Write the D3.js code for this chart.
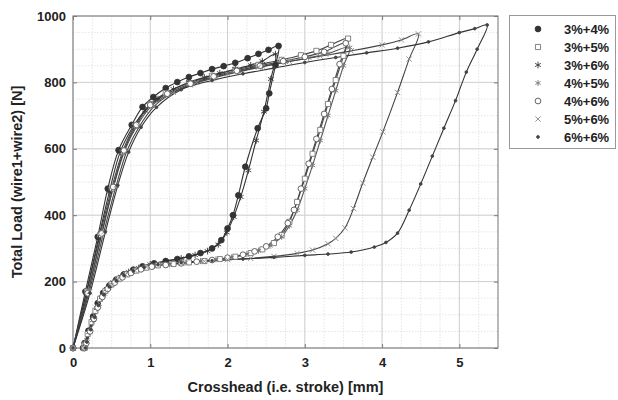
<!DOCTYPE html>
<html>
<head>
<meta charset="utf-8">
<script src="https://cdn.jsdelivr.net/npm/d3@7"></script>
<style>
  html, body { margin: 0; padding: 0; background: #fff; }
  svg { display: block; }
  text { font-family: "Liberation Sans", Arial, sans-serif; font-weight: bold; fill: #222; }
</style>
</head>
<body>
<svg id="chart" width="618" height="400"></svg>
<script>
// Load–displacement loops of paired wires, [stroke mm, load N]
const seriesNames = ["3%+4%", "3%+5%", "3%+6%", "4%+5%", "4%+6%", "5%+6%", "6%+6%"];

const loop3_4 = [
  [0,0],[0.16,170],[0.32,335],[0.45,480],[0.59,596],[0.76,672],[0.9,726],[1.04,756],[1.2,783],
  [1.35,801],[1.5,816],[1.65,828],[1.8,840],[1.95,849],[2.1,859],[2.26,873],[2.4,886],[2.53,898],[2.66,910],
  [2.62,852],[2.54,767],[2.5,722],[2.39,662],[2.23,546],[2.14,460],[2.07,400],[2.0,360],[1.92,325],[1.8,300],
  [1.65,286],[1.5,276],[1.35,268],[1.2,262],[1.05,255],[0.9,246],[0.78,236],[0.66,222],[0.56,206],[0.47,188],
  [0.39,166],[0.32,135],[0.26,95],[0.2,52],[0.15,15],[0.13,0]
];
const loop3_5 = [
  [0,0],[0.18,170],[0.35,340],[0.5,480],[0.64,590],[0.8,670],[1.0,735],[1.2,768],[1.5,798],[1.8,820],
  [2.1,838],[2.4,853],[2.7,868],[2.95,882],[3.15,895],[3.34,913],[3.56,932],
  [3.5,880],[3.4,807],[3.3,735],[3.2,657],[3.1,585],[3.0,510],[2.9,440],[2.8,380],[2.7,340],[2.6,316],
  [2.45,297],[2.3,286],[2.1,275],[1.9,268],[1.7,262],[1.5,258],[1.3,253],[1.1,249],[0.95,242],[0.82,233],
  [0.7,222],[0.6,209],[0.5,192],[0.42,172],[0.35,148],[0.29,112],[0.24,78],[0.19,42],[0.15,10],[0.14,0]
];
const loop3_6 = [
  [0,0],[0.17,165],[0.33,330],[0.47,470],[0.61,590],[0.78,668],[0.93,715],[1.1,750],[1.3,780],[1.5,800],
  [1.7,815],[1.9,828],[2.1,840],[2.3,852],[2.45,864],[2.62,885],
  [2.56,810],[2.47,712],[2.37,625],[2.27,535],[2.17,455],[2.08,395],[1.99,348],[1.88,312],[1.74,292],
  [1.58,280],[1.4,270],[1.2,261],[1.0,252],[0.85,241],[0.72,229],[0.62,215],[0.52,198],[0.44,178],[0.37,153],
  [0.31,120],[0.26,84],[0.21,48],[0.16,12],[0.15,0]
];
const loop4_5 = [
  [0,0],[0.2,175],[0.38,350],[0.53,490],[0.67,595],[0.83,670],[1.02,730],[1.25,765],[1.55,794],[1.85,815],
  [2.15,832],[2.45,847],[2.75,861],[3.05,874],[3.3,887],[3.58,905],
  [3.5,850],[3.4,775],[3.3,700],[3.2,625],[3.1,550],[3.0,480],[2.9,415],[2.8,368],[2.7,335],[2.55,308],
  [2.4,293],[2.25,283],[2.05,273],[1.85,267],[1.65,262],[1.45,257],[1.25,252],[1.05,247],[0.9,239],[0.77,229],
  [0.65,216],[0.55,201],[0.46,182],[0.39,158],[0.33,126],[0.27,90],[0.22,52],[0.18,18],[0.16,0]
];
const loop4_6 = [
  [0,0],[0.19,165],[0.37,345],[0.52,485],[0.66,595],[0.82,672],[1.0,732],[1.22,766],[1.52,796],[1.82,818],
  [2.12,835],[2.42,850],[2.72,864],[3.0,877],[3.25,892],[3.53,918],
  [3.45,855],[3.35,780],[3.25,705],[3.15,630],[3.05,555],[2.95,480],[2.86,416],[2.78,376],[2.65,335],
  [2.5,306],[2.35,291],[2.2,281],[2.0,272],[1.8,265],[1.6,260],[1.4,255],[1.2,250],[1.02,245],[0.88,237],
  [0.75,226],[0.64,213],[0.54,197],[0.45,178],[0.38,154],[0.32,122],[0.27,88],[0.22,50],[0.17,14],[0.15,0]
];
const loop5_6 = [
  [0,0],[0.21,170],[0.4,350],[0.56,490],[0.7,595],[0.86,668],[1.05,728],[1.3,770],[1.6,800],[2.0,826],
  [2.4,846],[2.8,863],[3.2,879],[3.6,895],[4.0,913],[4.25,928],[4.47,946],
  [4.35,870],[4.2,770],[4.01,651],[3.88,575],[3.75,497],[3.63,420],[3.52,362],[3.4,330],[3.3,314],
  [3.1,295],[2.9,285],[2.6,276],[2.3,270],[2.0,266],[1.7,261],[1.4,256],[1.15,251],[0.95,244],[0.8,234],
  [0.68,221],[0.58,206],[0.49,188],[0.41,165],[0.34,134],[0.28,98],[0.23,60],[0.18,22],[0.15,0]
];
const loop6_6 = [
  [0,0],[0.22,165],[0.42,350],[0.58,490],[0.72,590],[0.88,665],[1.08,725],[1.4,778],[1.8,806],[2.2,826],
  [2.6,843],[3.0,860],[3.4,875],[3.8,889],[4.2,903],[4.6,922],[5.0,950],[5.2,962],[5.36,973],
  [5.23,900],[5.09,831],[4.95,745],[4.8,662],[4.65,578],[4.5,494],[4.35,415],[4.2,346],[4.05,318],
  [3.9,304],[3.6,289],[3.3,283],[3.0,279],[2.6,273],[2.2,268],[1.8,263],[1.4,257],[1.1,251],[0.92,243],
  [0.78,232],[0.66,218],[0.56,202],[0.47,184],[0.4,160],[0.33,128],[0.28,92],[0.23,55],[0.18,18],[0.16,0]
];

const loops = [loop3_4, loop3_5, loop3_6, loop4_5, loop4_6, loop5_6, loop6_6];

const xTicks = [0, 1, 2, 3, 4, 5];
const yTicks = [0, 200, 400, 600, 800, 1000];

// Layout
const svg = d3.select("#chart");
const plot = { left: 73, right: 498, top: 16, bottom: 348 };

const x = d3.scaleLinear().domain([0, 5.5]).range([plot.left, plot.right]);
const y = d3.scaleLinear().domain([0, 1000]).range([plot.bottom, plot.top]);

// Grid: minor then major
const g = svg.append("g");
const minorX = d3.range(0, 5.5001, 0.25);
const minorY = d3.range(0, 1000.001, 50);
g.selectAll("line.mx").data(minorX).join("line")
  .attr("x1", d => x(d)).attr("x2", d => x(d))
  .attr("y1", plot.top).attr("y2", plot.bottom)
  .attr("stroke", "#dedede").attr("stroke-width", 0.8).attr("stroke-dasharray", "1.5,1.5");
g.selectAll("line.my").data(minorY).join("line")
  .attr("y1", d => y(d)).attr("y2", d => y(d))
  .attr("x1", plot.left).attr("x2", plot.right)
  .attr("stroke", "#dedede").attr("stroke-width", 0.8).attr("stroke-dasharray", "1.5,1.5");
g.selectAll("line.gx").data(xTicks).join("line")
  .attr("x1", d => x(d)).attr("x2", d => x(d))
  .attr("y1", plot.top).attr("y2", plot.bottom)
  .attr("stroke", "#d0d0d0").attr("stroke-width", 1);
g.selectAll("line.gy").data(yTicks).join("line")
  .attr("y1", d => y(d)).attr("y2", d => y(d))
  .attr("x1", plot.left).attr("x2", plot.right)
  .attr("stroke", "#d0d0d0").attr("stroke-width", 1);

// Axes (ticks inward, box on)
const axisColor = "#7a7a7a";
function styleAxis(sel) {
  sel.select(".domain").remove();
  sel.selectAll(".tick line").attr("stroke", axisColor);
  sel.selectAll(".tick text").attr("font-size", 13).attr("font-weight", "bold").attr("fill", "#222")
    .attr("font-family", "'Liberation Sans', Arial, sans-serif");
}
svg.append("g").attr("transform", `translate(0,${plot.bottom})`)
  .call(d3.axisBottom(x).tickValues(xTicks).tickFormat(d3.format("d")).tickSizeInner(-4).tickSizeOuter(0).tickPadding(10))
  .call(styleAxis);
svg.append("g").attr("transform", `translate(0,${plot.top})`)
  .call(d3.axisTop(x).tickValues(xTicks).tickFormat("").tickSizeInner(-4).tickSizeOuter(0))
  .call(styleAxis);
svg.append("g").attr("transform", `translate(${plot.left},0)`)
  .call(d3.axisLeft(y).tickValues(yTicks).tickFormat(d3.format("d")).tickSizeInner(-4).tickSizeOuter(0).tickPadding(7))
  .call(styleAxis);
svg.append("g").attr("transform", `translate(${plot.right},0)`)
  .call(d3.axisRight(y).tickValues(yTicks).tickFormat("").tickSizeInner(-4).tickSizeOuter(0))
  .call(styleAxis);

svg.append("rect")
  .attr("x", plot.left).attr("y", plot.top)
  .attr("width", plot.right - plot.left).attr("height", plot.bottom - plot.top)
  .attr("fill", "none").attr("stroke", axisColor).attr("stroke-width", 1);

// Marker styles per series
const markerStyles = [
  { type: d3.symbolCircle,   size: 26, fill: "#333", stroke: "#333" },
  { type: d3.symbolSquare,   size: 26, fill: "#fff", stroke: "#777" },
  { type: d3.symbolAsterisk, size: 30, fill: "none", stroke: "#333" },
  { type: d3.symbolAsterisk, size: 26, fill: "none", stroke: "#777" },
  { type: d3.symbolCircle,   size: 26, fill: "#fff", stroke: "#555" },
  { type: d3.symbolTimes,    size: 20, fill: "none", stroke: "#888" },
  { type: d3.symbolCircle,   size: 6,  fill: "#444", stroke: "#444" }
];
const lineColors = ["#333", "#444", "#333", "#555", "#444", "#444", "#333"];

const line = d3.line().x(d => x(d[0])).y(d => y(d[1])).curve(d3.curveCatmullRom.alpha(0.5));

const curves = svg.append("g");
loops.forEach((pts, i) => {
  curves.append("path").datum(pts)
    .attr("d", line)
    .attr("fill", "none").attr("stroke", lineColors[i]).attr("stroke-width", 1.1);
});
loops.forEach((pts, i) => {
  const m = markerStyles[i];
  curves.append("g").selectAll("path").data(pts).join("path")
    .attr("transform", d => `translate(${x(d[0])},${y(d[1])})`)
    .attr("d", d3.symbol().type(m.type).size(m.size))
    .attr("fill", m.fill).attr("stroke", m.stroke).attr("stroke-width", 0.9);
});

// Axis titles
svg.append("text")
  .attr("x", (plot.left + plot.right) / 2).attr("y", 392)
  .attr("text-anchor", "middle").attr("font-size", 14.5)
  .text("Crosshead (i.e. stroke) [mm]");
svg.append("text")
  .attr("transform", `translate(22,${(plot.top + plot.bottom) / 2}) rotate(-90)`)
  .attr("text-anchor", "middle").attr("font-size", 14.5)
  .text("Total Load (wire1+wire2) [N]");

// Legend
const legend = svg.append("g");
legend.append("rect")
  .attr("x", 509.5).attr("y", 15.5).attr("width", 106).attr("height", 133)
  .attr("fill", "#fff").attr("stroke", "#999").attr("stroke-width", 1);
const legendRow = d3.scalePoint().domain(seriesNames).range([29, 137]);
seriesNames.forEach((name, i) => {
  const m = markerStyles[i];
  const ly = legendRow(name);
  legend.append("path")
    .attr("transform", `translate(538,${ly})`)
    .attr("d", d3.symbol().type(m.type).size(m.size))
    .attr("fill", m.fill).attr("stroke", m.stroke).attr("stroke-width", 0.9);
  legend.append("text")
    .attr("x", 564).attr("y", ly + 4.5).attr("font-size", 13)
    .text(name);
});
</script>
</body>
</html>
